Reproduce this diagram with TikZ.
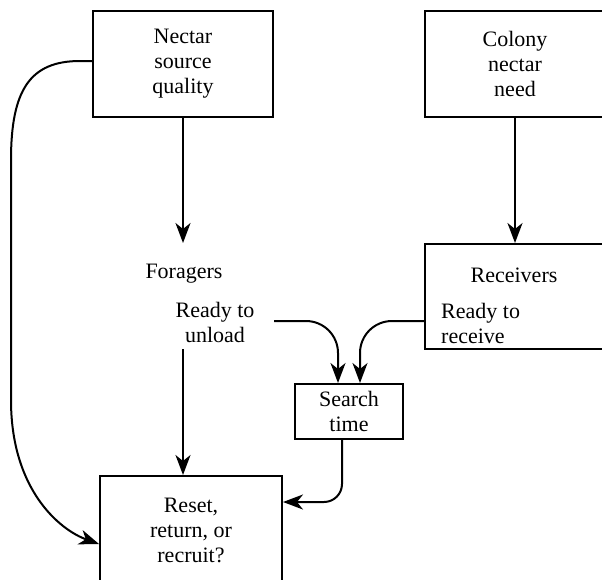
\documentclass[tikz,border=0pt]{standalone}
\usepackage{fontspec}
\setmainfont{Liberation Serif}
\usetikzlibrary{arrows.meta}
\begin{document}
\begin{tikzpicture}[x=1pt,y=-1pt,
  every node/.style={font=\fontsize{22}{25}\selectfont},
  box/.style={draw, line width=2pt, inner sep=0pt, align=center},
  lbl/.style={inner sep=0pt},
  arr/.style={line width=2pt, -{Stealth[length=20pt,width=15pt,inset=6pt]}}]
\useasboundingbox (0,0) rectangle (602,579);
\clip (0,0) rectangle (602,579);

% boxes
\node[box, minimum width=180pt, minimum height=106pt] (nsq) at (183,64) {Nectar\\source\\quality};
\node[box, minimum width=180pt, minimum height=106pt] (cnn) at (515,64) {Colony\\nectar\\need};
\node[box, minimum width=180pt, minimum height=105pt] (rcv) at (515,296.5) {};
\node[box, minimum width=108pt, minimum height=55pt] (srch) at (349,411.5) {Search\\time};
\node[box, minimum width=182pt, minimum height=108pt] (rst) at (191,530) {Reset,\\return, or\\recruit?};

% free labels
\node[lbl, anchor=base] (frg) at (184,278) {Foragers};
\node[lbl, align=center] (rdy) at (215,322) {Ready to\\unload};
\node[lbl, anchor=base] (rcvt) at (514,282) {Receivers};
\node[lbl, align=left, anchor=west] (rrc) at (441,323) {Ready to\\receive};

\coordinate (uout) at (274,321);

% connectors
\draw[arr] (nsq.south) -- (nsq.south |- rcv.north);
\draw[arr] (cnn.south) -- (rcv.north);
\draw[arr] ([yshift=-7pt]rdy.south -| nsq.south) -- (nsq.south |- rst.north);
\draw[arr, rounded corners=32pt] (uout) -| ([xshift=-11pt]srch.north);
\draw[arr, rounded corners=32pt] (rcv.west |- uout) -| ([xshift=11pt]srch.north);
\draw[arr, rounded corners=18pt] ([xshift=-7pt]srch.south) |- ([yshift=28pt]rst.east);
\draw[arr] ([yshift=3pt]nsq.west) -- (80,61) .. controls (30,61) and (11,90) .. (11,160)
  -- (11,400) .. controls (11,490) and (60,530) .. ([yshift=-14pt]rst.west);
\end{tikzpicture}
\end{document}
